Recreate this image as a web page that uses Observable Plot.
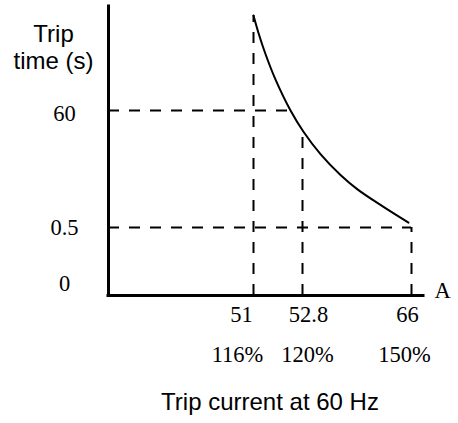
<!DOCTYPE html>
<html>
<head>
<meta charset="utf-8">
<script src="https://cdn.jsdelivr.net/npm/d3@7"></script>
<script src="https://cdn.jsdelivr.net/npm/@observablehq/plot@0.6"></script>
<style>
  html, body { margin: 0; padding: 0; background: #fff; }
  #chart { width: 458px; height: 423px; }
</style>
</head>
<body>
<div id="chart"></div>
<script>
// ---- data ----
const currentTicks = [51, 52.8, 66];            // A
const percentLabels = ["116%", "120%", "150%"];
const timeTicks = [0, 0.5, 60];                 // s
const curveCurrent = [51, 51.18, 51.44, 51.81, 52.36, 52.92, 54.98, 57.40, 59.46, 62.61, 65.64];
const curveTime    = [114.8, 104.9, 92.6, 77.8, 60, 49.2, 37.8, 27.2, 19.9, 11.0, 3.0];
const vGuideTop = [114.8, 50.5, 0.5];           // where each current guide stops (s)
const hGuideTimes = [60, 0.5];
const hGuideEnd = [52.3, 66];                   // where each time guide stops (A)
const xUnit = "A";
const yTitle = "Trip\ntime (s)";
const xTitle = "Trip current at 60 Hz";

// ---- style ----
const serif = "'Liberation Serif', 'Times New Roman', serif";
const sans = "'Liberation Sans', Arial, sans-serif";
const serifSize = 22.5, sansSize = 24;
const dash = "11,10";
const xLabelDx = [-12, 6, -4];
const pctDx = [-16, 5, -7];
const yLabelDy = [-12, 0, 3];

const marks = [
  // axes lines
  Plot.ruleY([0], {stroke: "#000", strokeWidth: 3, strokeLinecap: "square"}),
  Plot.ruleX([0], {stroke: "#000", strokeWidth: 3, strokeLinecap: "square"}),
  // vertical dashed guides
  Plot.ruleX(currentTicks, {x: d => d, y1: 0, y2: (d, i) => vGuideTop[i], stroke: "#000", strokeWidth: 2, strokeDasharray: dash}),
  // horizontal dashed guides
  Plot.ruleY(hGuideTimes, {y: d => d, x1: 0, x2: (d, i) => hGuideEnd[i], stroke: "#000", strokeWidth: 2, strokeDasharray: dash}),
  // trip curve
  Plot.line(curveTime, {x: curveCurrent, y: curveTime, curve: "catmull-rom", stroke: "#000", strokeWidth: 2}),
  // unit label
  Plot.text([xUnit], {frameAnchor: "bottom-right", text: d => d, dx: 11, dy: 2, textAnchor: "start", fontFamily: serif, fontSize: serifSize}),
  // y title
  Plot.text([yTitle], {frameAnchor: "top-left", text: d => d, dx: -55, dy: 16, lineAnchor: "top", lineHeight: 1.13, textAnchor: "middle", fontFamily: sans, fontSize: sansSize}),
  // x title
  Plot.text([xTitle], {frameAnchor: "bottom", text: d => d, dx: 4, dy: 114.5, textAnchor: "middle", fontFamily: sans, fontSize: sansSize}),
  // current tick labels
  ...currentTicks.map((t, i) => Plot.text([t], {x: d => d, text: d => String(d), frameAnchor: "bottom", dy: 26, dx: xLabelDx[i], textAnchor: "middle", fontFamily: serif, fontSize: serifSize})),
  // percent labels
  ...percentLabels.map((p, i) => Plot.text([p], {x: () => currentTicks[i], text: d => d, frameAnchor: "bottom", dy: 66, dx: pctDx[i], textAnchor: "middle", fontFamily: serif, fontSize: serifSize})),
  // time tick labels
  ...timeTicks.map((t, i) => Plot.text([t], {y: d => d, text: d => String(d), frameAnchor: "left", dx: -44, dy: yLabelDy[i], textAnchor: "middle", fontFamily: serif, fontSize: serifSize}))
];

const chart = Plot.plot({
  width: 458,
  height: 423,
  marginLeft: 108,
  marginRight: 35,
  marginTop: 6,
  marginBottom: 128,
  x: {type: "linear", domain: [0, 51, 52.8, 66], range: [108, 253, 302, 411], axis: null},
  y: {type: "linear", domain: [0, 0.5, 60, 120], range: [295, 227, 110, 6], axis: null},
  style: {background: "#fff", color: "#000", overflow: "visible"},
  marks
});
document.getElementById("chart").appendChild(chart);
</script>
</body>
</html>
